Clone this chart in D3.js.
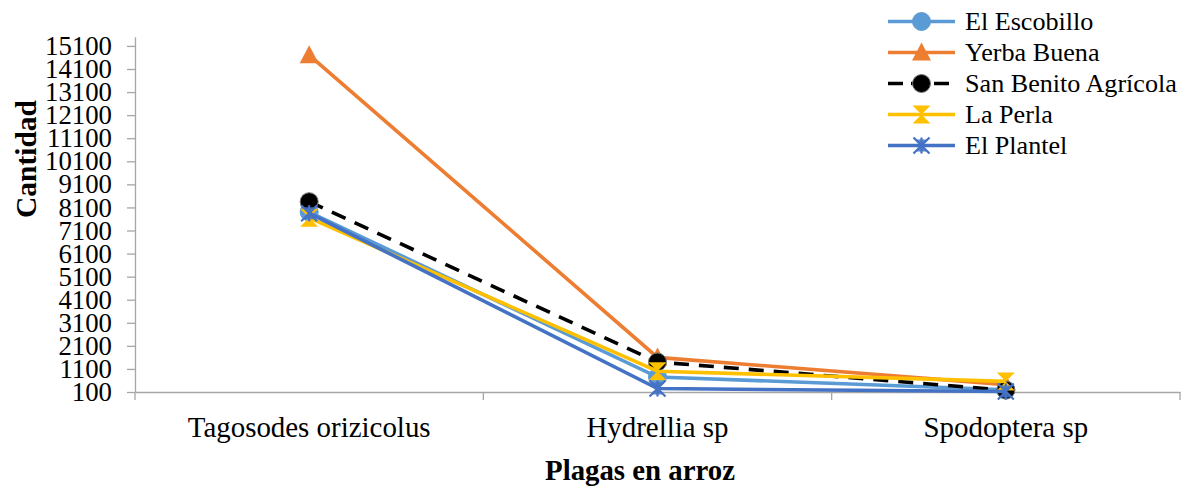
<!DOCTYPE html>
<html><head><meta charset="utf-8">
<script src="https://cdn.jsdelivr.net/npm/d3@7"></script>
<style>
html,body{margin:0;padding:0;background:#fff;}
svg{display:block;}
</style></head>
<body><svg id="chart" width="1183" height="488" font-family="Liberation Serif"></svg>
<script>
const categories = ["Tagosodes orizicolus", "Hydrellia sp", "Spodoptera sp"];
const seriesNames = ["El Escobillo", "Yerba Buena", "San Benito Agrícola", "La Perla", "El Plantel"];
const elEscobillo = [7900, 750, 200];
const yerbaBuena = [14700, 1600, 420];
const sanBenito = [8350, 1400, 180];
const laPerla = [7650, 1000, 560];
const elPlantel = [7850, 250, 120];
const yTicks = [100,1100,2100,3100,4100,5100,6100,7100,8100,9100,10100,11100,12100,13100,14100,15100];

const seriesValues = [elEscobillo, yerbaBuena, sanBenito, laPerla, elPlantel];
const colors = ["#5B9BD5", "#ED7D31", "#000000", "#FFC000", "#4472C4"];
const markers = ["circle", "triangle", "circle", "hourglass", "star"];
const dashes = [null, null, "15,10", null, null];

const FONT = "Liberation Serif";
const svg = d3.select("#chart");
const plotLeft = 135, plotRight = 1180, plotTop = 36.7, plotBottom = 392;

const x = d3.scaleBand().domain(categories).range([plotLeft, plotRight]).padding(0);
const y = d3.scaleLinear().domain([100, 15500]).range([plotBottom, plotTop]);

const axisColor = "#a6a6a6";

// fit text font size to a target width (styling helper)
function fit(sel, base, targetW) {
  sel.attr("font-size", base);
  const w = sel.node().getComputedTextLength();
  sel.attr("font-size", base * targetW / w);
}

// Y axis
const yAxis = d3.axisLeft(y).tickValues(yTicks).tickSize(8).tickSizeOuter(0).tickPadding(14).tickFormat(d3.format("d"));
const gy = svg.append("g").attr("transform", `translate(${plotLeft},0)`).call(yAxis)
  .attr("font-family", FONT);
gy.select(".domain").attr("stroke", axisColor).attr("stroke-width", 1.3);
gy.selectAll(".tick line").attr("stroke", axisColor).attr("stroke-width", 1.3);
const yt = gy.selectAll(".tick text").attr("font-family", FONT).attr("fill", "#000").attr("x", -23);
const firstTop = gy.selectAll(".tick text").filter(d => d === 15100);
fit(firstTop, 26, 67);
const ySize = firstTop.attr("font-size");
yt.attr("font-size", ySize);

// X axis
const xAxis = d3.axisBottom(x).tickSize(0).tickPadding(0);
const gx = svg.append("g").attr("transform", `translate(0,${plotBottom})`).call(xAxis)
  .attr("font-family", FONT);
gx.select(".domain").attr("stroke", axisColor).attr("stroke-width", 1.3);
const xt = gx.selectAll(".tick text").attr("font-family", FONT).attr("fill", "#000")
  .attr("y", 45).attr("dy", 0);
fit(xt.filter(d => d === categories[0]), 27, 243);
xt.attr("font-size", xt.filter(d => d === categories[0]).attr("font-size"));
// category boundary ticks
const bounds = categories.map(c => x(c)).concat([x(categories[categories.length-1]) + x.bandwidth()]);
svg.append("g").selectAll("line").data(bounds).join("line")
  .attr("x1", d => d).attr("x2", d => d).attr("y1", plotBottom).attr("y2", plotBottom + 8)
  .attr("stroke", axisColor).attr("stroke-width", 1.3);

// Axis titles
const xTitle = svg.append("text").attr("x", 640).attr("y", 480).attr("text-anchor", "middle")
  .attr("font-family", FONT).attr("font-weight", "bold").text("Plagas en arroz");
fit(xTitle, 28, 190);
const yTitle = svg.append("text").attr("transform", "translate(36,159) rotate(-90)").attr("text-anchor", "middle")
  .attr("font-family", FONT).attr("font-weight", "bold").text("Cantidad");
fit(yTitle, 28, 118);

function drawMarker(g, type, color, cx, cy) {
  if (type === "circle") {
    g.append("circle").attr("cx", cx).attr("cy", cy).attr("r", 9)
      .attr("fill", color).attr("stroke", color === "#000000" ? "#777" : color).attr("stroke-width", 1);
  } else if (type === "triangle") {
    g.append("path").attr("d", `M${cx},${cy-10}L${cx+9.5},${cy+8}L${cx-9.5},${cy+8}Z`).attr("fill", color);
  } else if (type === "hourglass") {
    g.append("path").attr("d", `M${cx-9},${cy-9}L${cx+9},${cy-9}L${cx},${cy}L${cx+9},${cy+9}L${cx-9},${cy+9}L${cx},${cy}Z`).attr("fill", color);
  } else if (type === "star") {
    const r = 8;
    g.append("path").attr("d", `M${cx-r},${cy-r}L${cx+r},${cy+r}M${cx-r},${cy+r}L${cx+r},${cy-r}M${cx},${cy-r}L${cx},${cy+r}`)
      .attr("stroke", color).attr("stroke-width", 2.2).attr("fill", "none");
    g.append("path").attr("d", `M${cx-6},${cy-6}L${cx+6},${cy-6}L${cx},${cy}L${cx+6},${cy+6}L${cx-6},${cy+6}L${cx},${cy}Z`).attr("fill", color).attr("opacity", 0.85);
  }
}

const line = d3.line().x((d, i) => x(categories[i]) + x.bandwidth() / 2).y(d => y(d));

seriesValues.forEach((vals, si) => {
  const g = svg.append("g");
  g.append("path").datum(vals).attr("d", line).attr("fill", "none")
    .attr("stroke", colors[si]).attr("stroke-width", 3.6)
    .attr("stroke-dasharray", dashes[si]);
  vals.forEach((v, i) => drawMarker(g, markers[si], colors[si], x(categories[i]) + x.bandwidth() / 2, y(v)));
});

// Legend
const legend = svg.append("g");
let legendSize = null;
seriesNames.forEach((name, i) => {
  const ly = 21.5 + i * 31;
  const g = legend.append("g");
  g.append("line").attr("x1", 888).attr("x2", 955).attr("y1", ly).attr("y2", ly)
    .attr("stroke", colors[i]).attr("stroke-width", 3.6).attr("stroke-dasharray", dashes[i] ? "15,8" : null);
  drawMarker(g, markers[i], colors[i], 921.5, ly);
  const t = g.append("text").attr("x", 965).attr("y", ly + 8).attr("font-family", FONT).attr("fill", "#000").text(name);
  if (name === "San Benito Agrícola") { fit(t, 24, 212); legendSize = t.attr("font-size"); }
});
legend.selectAll("text").attr("font-size", legendSize);
</script></body></html>
